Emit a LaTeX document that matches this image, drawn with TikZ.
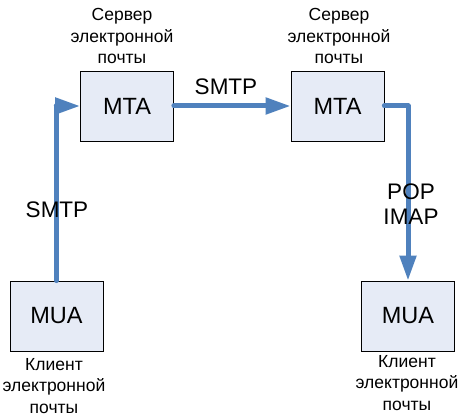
\documentclass[tikz,border=0pt]{standalone}
\usepackage{fontspec}
\setmainfont{Liberation Sans}
\usetikzlibrary{arrows.meta}
\definecolor{linkblue}{RGB}{79,129,189}
\definecolor{boxfill}{RGB}{230,235,246}

\begin{document}
\begin{tikzpicture}[x=1pt,y=-1pt]
		\tikzstyle{agent}=[draw=black, line width=0.8pt, fill=boxfill, minimum width=93pt, minimum height=70pt, inner sep=0pt, font=\fontsize{23.5}{25}\selectfont]
		\tikzstyle{caption}=[align=center, inner sep=0pt, font=\fontsize{17.5}{21.5}\selectfont]
		\tikzstyle{proto}=[align=center, inner sep=0pt, font=\fontsize{22.5}{24.5}\selectfont]
		\tikzstyle{link}=[draw=linkblue, line width=5pt, line cap=round, line join=round, -{Triangle[length=25pt,width=16pt]}]
		\useasboundingbox (0,0) rectangle (467,420);
		% boxes
		\node [agent] (mta1) at (127,106) {MTA};
		\node [agent] (mta2) at (337.5,106) {MTA};
		\node [agent] (mua1) at (56.5,316) {MUA};
		\node [agent] (mua2) at (408,316) {MUA};
		% captions
		\node [caption] (cap1) at (122,36) {Сервер\\электронной\\почты};
		\node [caption] (cap2) at (339,36) {Сервер\\электронной\\почты};
		\node [caption] (cap3) at (54,386) {Клиент\\электронной\\почты};
		\node [caption] (cap4) at (407,383) {Клиент\\электронной\\почты};
		% links
		\draw [link] (mua1.north) |- (mta1.west);
		\draw [link] (mta1.east) -- (mta2.west);
		\draw [link] (mta2.east) -| (mua2.north);
		\node [proto] (p1) at (57,210) {SMTP};
		\node [proto] (p2) at (226,87) {SMTP};
		\node [proto] (p3) at (411,204) {POP\\IMAP};
\end{tikzpicture}
\end{document}
